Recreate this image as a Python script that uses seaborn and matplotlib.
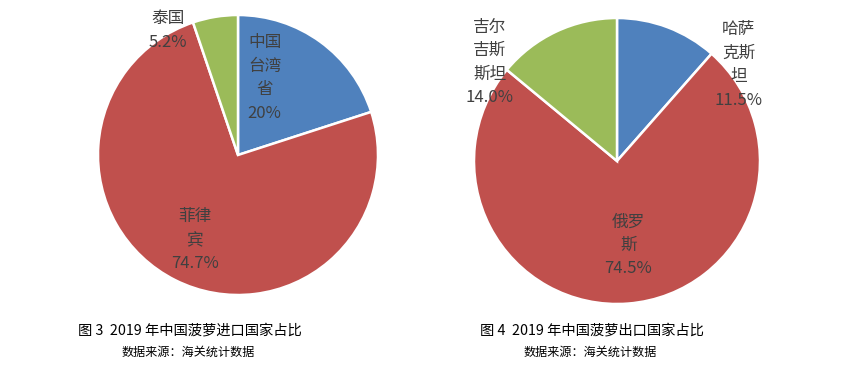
import matplotlib
matplotlib.use("Agg")
import matplotlib.pyplot as plt
import seaborn as sns

# 进口
import_countries = ["中国\n台湾\n省", "菲律\n宾", "泰国"]
import_share = [20.0, 74.7, 5.2]
import_labels = ["20%", "74.7%", "5.2%"]

# 出口
export_countries = ["哈萨\n克斯\n坦", "俄罗\n斯", "吉尔\n吉斯\n斯坦"]
export_share = [11.5, 74.5, 14.0]
export_labels = ["11.5%", "74.5%", "14.0%"]

captions = ["图 3  2019 年中国菠萝进口国家占比", "图 4  2019 年中国菠萝出口国家占比"]
source = "数据来源：海关统计数据"

sns.set_theme(style="white")
plt.rcParams["font.family"] = ["Noto Sans CJK SC", "DejaVu Sans"]

colors = ["#4F81BD", "#C0504D", "#9BBB59"]
label_color = "#404040"

fig = plt.figure(figsize=(8.41, 3.89), dpi=100)


def draw_pie(rect, values, names, pcts, label_pos):
    ax = fig.add_axes(rect)
    ax.pie(values, colors=colors, startangle=90, counterclock=False,
           radius=1.0, wedgeprops=dict(edgecolor="white", linewidth=1.8))
    for name, pct, (x, y) in zip(names, pcts, label_pos):
        ax.text(x, y, name + "\n" + pct, ha="center", va="center",
                fontsize=12, color=label_color, linespacing=1.5)
    ax.set_xlim(-1, 1)
    ax.set_ylim(-1, 1)
    ax.set_aspect("equal")
    ax.axis("off")
    return ax


draw_pie([98 / 841, 1 - 295 / 389, 280 / 841, 280 / 389],
         import_share, import_countries, import_labels,
         [(0.19, 0.55), (-0.31, -0.61), (-0.50, 0.89)])

draw_pie([474 / 841, 1 - 304 / 389, 286 / 841, 286 / 389],
         export_share, export_countries, export_labels,
         [(0.85, 0.67), (0.08, -0.59), (-0.89, 0.69)])

for cx, cap in zip([190 / 841, 592 / 841], captions):
    fig.text(cx, 1 - 330 / 389, cap, ha="center", va="center",
             fontsize=10.3, color="black")
for cx in [188 / 841, 590 / 841]:
    fig.text(cx, 1 - 352 / 389, source, ha="center", va="center",
             fontsize=8.7, color="black")

fig.savefig("out.png", dpi=100, facecolor="white")
